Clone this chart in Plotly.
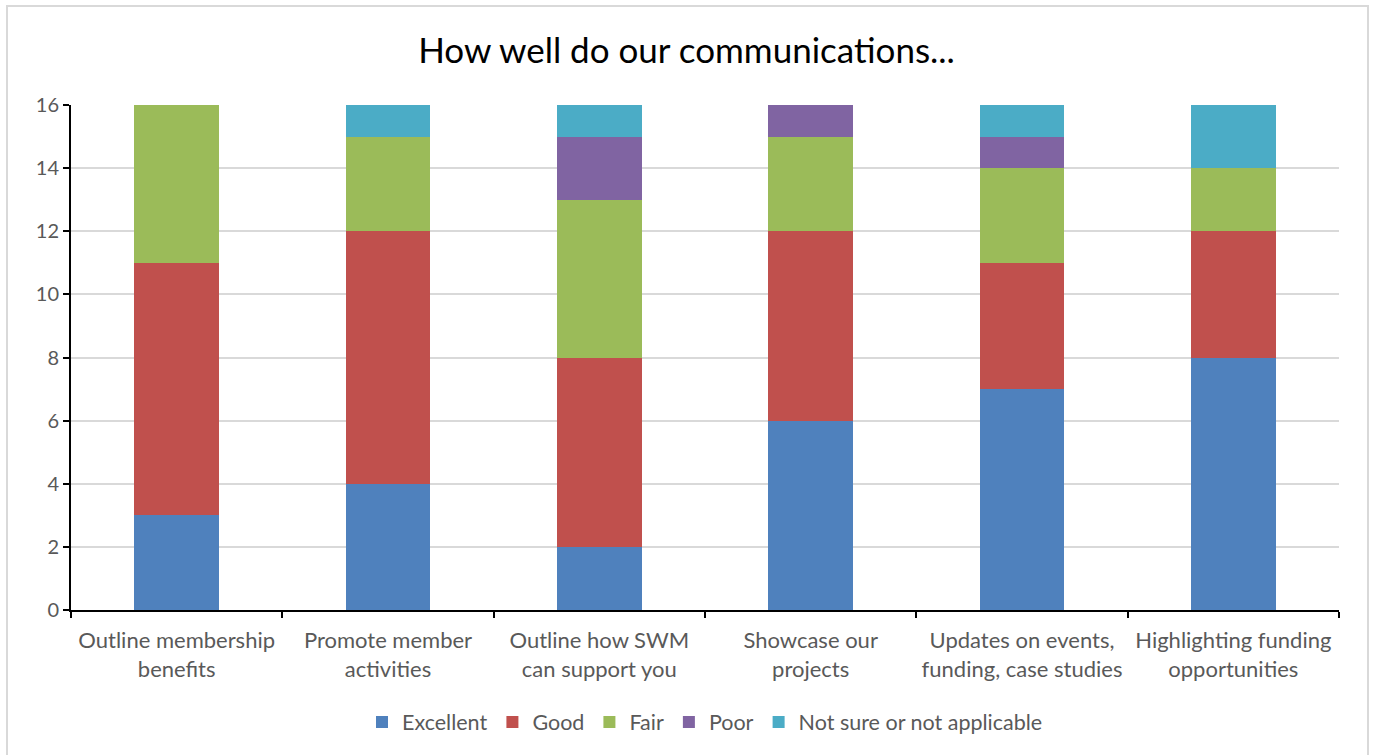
import plotly.graph_objects as go

# Survey results: "How well do our communications..."
categories = [
    "Outline membership<br>benefits",
    "Promote member<br>activities",
    "Outline how SWM<br>can support you",
    "Showcase our<br>projects",
    "Updates on events,<br>funding, case studies",
    "Highlighting funding<br>opportunities",
]
excellent = [3, 4, 2, 6, 7, 8]
good = [8, 8, 6, 6, 4, 4]
fair = [5, 3, 5, 3, 3, 2]
poor = [0, 0, 2, 1, 1, 0]
not_sure = [0, 1, 1, 0, 1, 2]

series = [
    ("Excellent", excellent, "#4f81bd"),
    ("Good", good, "#c0504d"),
    ("Fair", fair, "#9bbb59"),
    ("Poor", poor, "#8064a2"),
    ("Not sure or not applicable", not_sure, "#4bacc6"),
]

W, H = 1373, 755
ML, MR, MT, MB = 71, 34, 105, 145

fig = go.Figure()
for name, vals, color in series:
    fig.add_trace(go.Bar(name=name, x=categories, y=vals, marker_color=color,
                         marker_line_width=0))

font_family = "Lato, 'Open Sans', sans-serif"
pw, ph = W - ML - MR, H - MT - MB

fig.update_layout(
    width=W, height=H,
    barmode="stack", bargap=0.6,
    margin=dict(l=ML, r=MR, t=MT, b=MB),
    paper_bgcolor="white", plot_bgcolor="white",
    font=dict(family=font_family, color="#595959", size=20),
    title=dict(text="How well do our communications...", x=0.5, xanchor="center",
               y=1 - 51 / H, yanchor="middle",
               font=dict(size=35, color="#000000", family=font_family)),
    legend=dict(orientation="h", x=0.5, xanchor="center",
                y=-(722 - (H - MB)) / ph, yanchor="middle",
                font=dict(size=21.5, color="#595959"),
                traceorder="normal", itemwidth=30),
    xaxis=dict(type="category", tickson="boundaries", ticks="outside", ticklen=6,
               tickcolor="black", tickwidth=2, showline=True, linecolor="black",
               linewidth=2, showgrid=False, ticklabelstandoff=10,
               tickfont=dict(size=22, color="#595959")),
    yaxis=dict(range=[0, 16], dtick=2, ticks="outside", ticklen=6, tickcolor="black",
               tickwidth=2, showline=True, linecolor="black", linewidth=2,
               gridcolor="#d9d9d9", gridwidth=1.5, zeroline=False,
               tickfont=dict(size=20, color="#595959")),
)

# Outer chart frame
fig.add_shape(type="rect", xref="paper", yref="paper",
              x0=(7 - ML) / pw, x1=(1368 - ML) / pw,
              y0=(H - MB - 760) / ph, y1=(H - MB - 6) / ph,
              line=dict(color="#d9d9d9", width=2), layer="below")

fig.write_html("out.html")
